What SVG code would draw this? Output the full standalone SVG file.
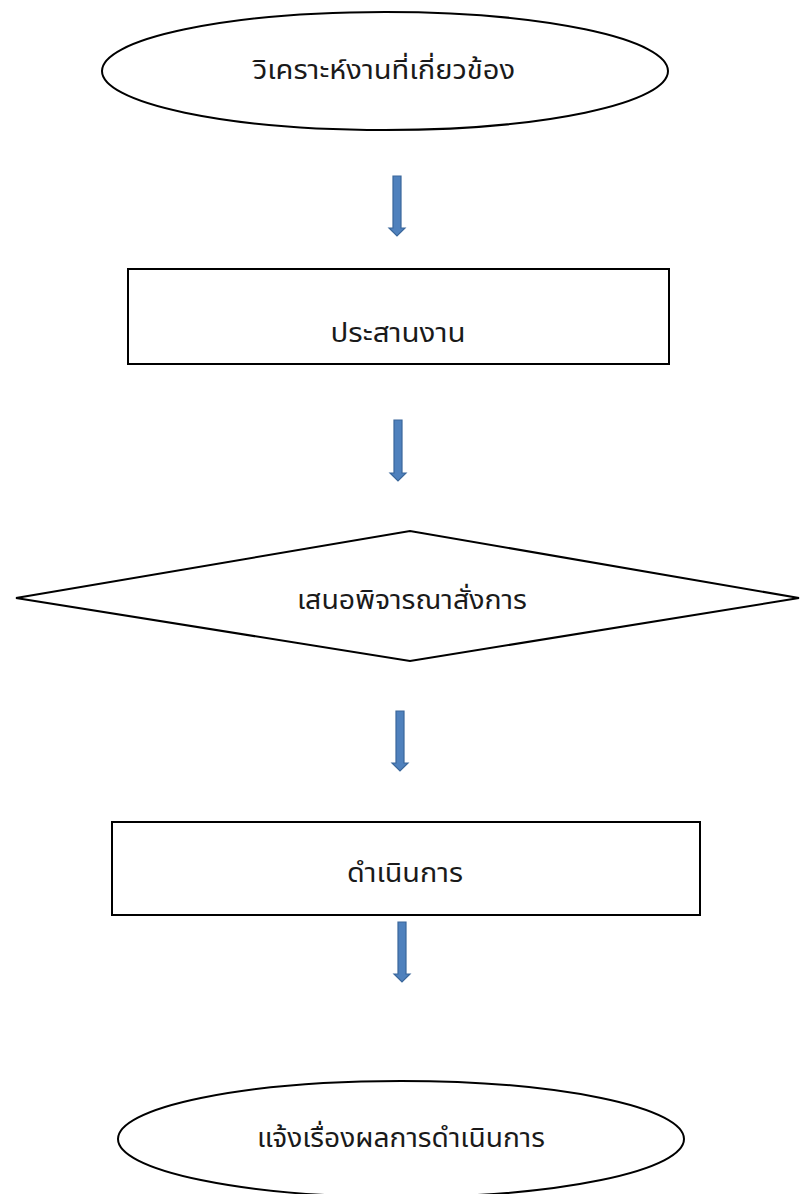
<svg xmlns="http://www.w3.org/2000/svg" width="800" height="1194" viewBox="0 0 800 1194">
<defs>
<style>
.shape{fill:#ffffff;stroke:#000000;stroke-width:2}
.lbl{font-family:"Noto Sans Thai","Noto Looped Thai","Loma","Garuda","Tlwg Typo","DejaVu Sans","Liberation Sans",sans-serif;font-size:26px;fill:#1a1a1a;text-anchor:middle;dominant-baseline:central}
.arr{fill:#4f81bd;stroke:#3a679b;stroke-width:1.2}
</style>
</defs>
<rect width="800" height="1194" fill="#ffffff"/>
<g id="n1">
<ellipse class="shape" cx="385" cy="71" rx="283" ry="59"/>
<text class="lbl" x="384" y="71" textLength="262" lengthAdjust="spacingAndGlyphs">วิเคราะห์งานที่เกี่ยวข้อง</text>
</g>
<g id="n2">
<rect class="shape" x="128" y="269" width="541" height="95"/>
<text class="lbl" x="398" y="334" textLength="135" lengthAdjust="spacingAndGlyphs">ประสานงาน</text>
</g>
<g id="n3">
<polygon class="shape" points="16,598 410,531 799,598 410,661"/>
<text class="lbl" x="412" y="601" textLength="230" lengthAdjust="spacingAndGlyphs">เสนอพิจารณาสั่งการ</text>
</g>
<g id="n4">
<rect class="shape" x="112" y="822" width="588" height="93"/>
<text class="lbl" x="405" y="874" textLength="116" lengthAdjust="spacingAndGlyphs">ดำเนินการ</text>
</g>
<g id="n5">
<ellipse class="shape" cx="401" cy="1139" rx="283" ry="58"/>
<text class="lbl" x="401" y="1139" textLength="288" lengthAdjust="spacingAndGlyphs">แจ้งเรื่องผลการดำเนินการ</text>
</g>
<g id="connectors">
<polygon class="arr" points="393,176 401,176 401,228 405,228 397,236 389,228 393,228"/>
<polygon class="arr" points="394,420 402,420 402,473 406,473 398,481 390,473 394,473"/>
<polygon class="arr" points="396,711 404,711 404,763 408,763 400,771 392,763 396,763"/>
<polygon class="arr" points="398,922 406,922 406,974 410,974 402,982 394,974 398,974"/>
</g>
</svg>
